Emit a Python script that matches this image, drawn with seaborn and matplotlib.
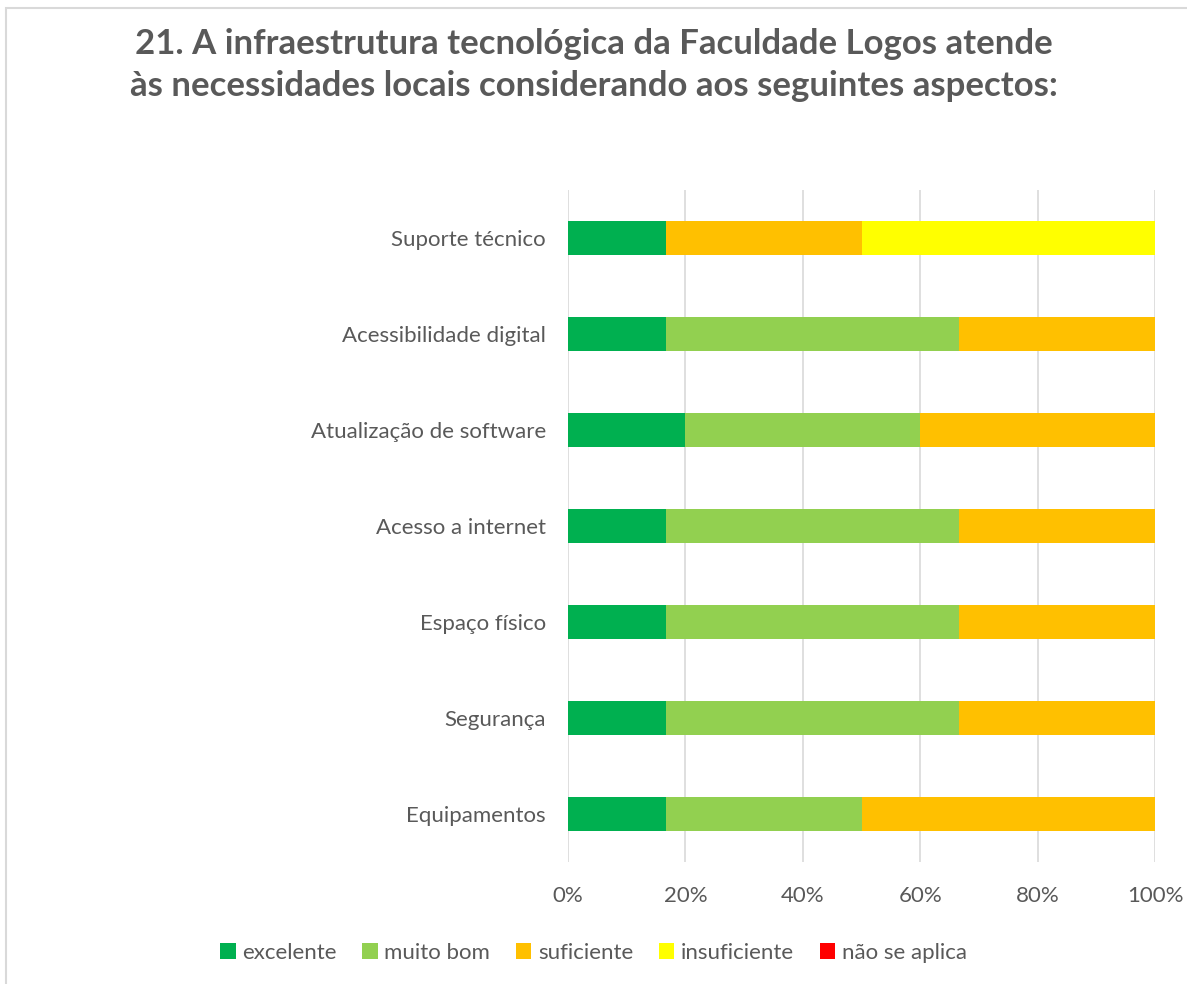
import numpy as np
import pandas as pd
import matplotlib
matplotlib.use('Agg')
import matplotlib.pyplot as plt
import seaborn as sns
from matplotlib.patches import Rectangle, Patch

categories = ['Suporte técnico', 'Acessibilidade digital', 'Atualização de software',
              'Acesso a internet', 'Espaço físico', 'Segurança', 'Equipamentos']
excelente = [16.67, 16.67, 20.0, 16.67, 16.67, 16.67, 16.67]
muito_bom = [0.0, 50.0, 40.0, 50.0, 50.0, 50.0, 33.33]
suficiente = [33.33, 33.33, 40.0, 33.33, 33.33, 33.33, 50.0]
insuficiente = [50.0, 0.0, 0.0, 0.0, 0.0, 0.0, 0.0]
nao_se_aplica = [0.0, 0.0, 0.0, 0.0, 0.0, 0.0, 0.0]

series_names = ['excelente', 'muito bom', 'suficiente', 'insuficiente', 'não se aplica']
series_vals = [excelente, muito_bom, suficiente, insuficiente, nao_se_aplica]
colors = ['#00B050', '#92D050', '#FFC000', '#FFFF00', '#FF0000']
tick_vals = [0, 20, 40, 60, 80, 100]
tick_labels = ['0%', '20%', '40%', '60%', '80%', '100%']

title = ('21. A infraestrutura tecnológica da Faculdade Logos atende\n'
         'às necessidades locais considerando aos seguintes aspectos:')

df = pd.DataFrame(dict(zip(series_names, series_vals)), index=categories)
cum = df.cumsum(axis=1)

sns.set_theme(style='white')
plt.rcParams['font.family'] = ['Lato', 'DejaVu Sans']
txt_color = '#595959'

fig = plt.figure(figsize=(11.87, 9.84), dpi=100)
ax = fig.add_axes([568 / 1187, 1 - 862 / 984, (1155 - 568) / 1187, 672 / 984])

# stacked bars: draw cumulative totals from the last series back to the first
for name, col in reversed(list(zip(series_names, colors))):
    d = pd.DataFrame({'cat': categories, 'val': cum[name].values})
    sns.barplot(data=d, y='cat', x='val', color=col, saturation=1, width=0.354,
                orient='h', ax=ax, linewidth=0, zorder=3)

ax.set_xlim(0, 100)
ax.set_ylim(6.5, -0.5)
ax.set_xticks(tick_vals)
ax.set_xticklabels(tick_labels)
ax.set_xlabel('')
ax.set_ylabel('')
ax.grid(axis='x', color='#D9D9D9', linewidth=1.2, zorder=0)
ax.grid(axis='y', visible=False)
for s in ax.spines.values():
    s.set_visible(False)
ax.tick_params(axis='both', length=0, labelsize=16, colors=txt_color)
ax.tick_params(axis='y', pad=16)
ax.tick_params(axis='x', pad=17)

fig.text(0.5, 1 - 65 / 984, title, ha='center', va='center', fontsize=25,
         fontweight='bold', color=txt_color, linespacing=1.4)

handles = [Patch(facecolor=c, edgecolor='none') for c in colors]
fig.legend(handles, series_names, loc='center', bbox_to_anchor=(0.5, 1 - 953 / 984),
           ncol=5, frameon=False, fontsize=16, handlelength=0.7, handleheight=0.7,
           handletextpad=0.3, columnspacing=1.15, labelcolor=txt_color)

fig.patches.append(Rectangle((6 / 1187, -0.05), 1.1, 1 - 8 / 984 + 0.05,
                             transform=fig.transFigure, fill=False,
                             edgecolor='#D9D9D9', linewidth=1.5))

fig.savefig('out.png', dpi=100)
